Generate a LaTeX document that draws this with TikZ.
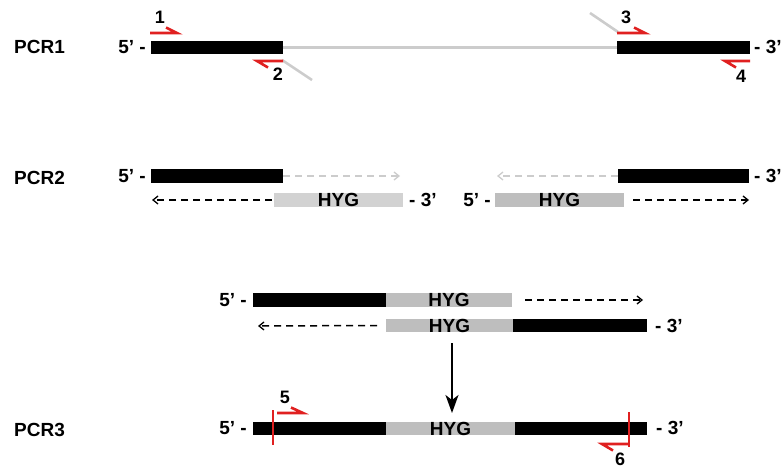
\documentclass[tikz,border=0pt]{standalone}
\usepackage{fontspec}
\setmainfont{Liberation Sans}
\usetikzlibrary{arrows.meta}
\definecolor{primred}{HTML}{E02020}
\definecolor{hygA}{HTML}{D2D2D2}
\definecolor{hygB}{HTML}{BEBEBE}
\definecolor{tailgrey}{HTML}{CCCCCC}
\tikzset{
  lbl/.style={font=\fontsize{19}{19}\selectfont\bfseries, inner sep=0pt},
  num/.style={font=\fontsize{18}{18}\selectfont\bfseries, inner sep=0pt},
  bar/.style={inner sep=0pt, outer sep=0pt, anchor=west, minimum height=13.5pt},
  blackbar/.style={bar, fill=black},
  hygbar/.style={bar, fill=hygB, font=\fontsize{19}{19}\selectfont\bfseries},
  hyglight/.style={bar, fill=hygA, font=\fontsize{19}{19}\selectfont\bfseries},
  primer/.style={draw=primred, line width=2.6pt, line join=miter},
  tail/.style={draw=tailgrey, line width=2.6pt},
  dsh/.style={line width=1.5pt, dash pattern=on 7pt off 5pt, -{Straight Barb[length=5pt,width=8pt,line width=1.3pt]}},
  tick/.style={draw=primred, line width=1.2pt},
}
\begin{document}
\begin{tikzpicture}[x=1pt,y=-1pt]
\useasboundingbox (0,0) rectangle (784,470);

% ---------- PCR1 ----------
\node[lbl, anchor=west] (p1) at (14,47) {PCR1};
\node[lbl, anchor=east] (p1a) at (146,47) {5’ -};
\node[blackbar, minimum width=132pt] (b11) at (151,47.5) {};
\node[blackbar, minimum width=133pt] (b12) at (617,47.5) {};
\node[lbl, anchor=west] (p1b) at (754,47) {- 3’};
\draw[tail] (b11.east) -- (b12.west);
% primer 1
\coordinate (q1s) at (150,33);
\coordinate (q1e) at (177,33);
\draw[primer] (q1s) -- (q1e) -- (166,27.5);
\node[num] (n1) at (160,17) {1};
% primer 2
\coordinate (q2s) at (283,61);
\coordinate (q2e) at (257,61);
\coordinate (t2) at (312,80);
\draw[tail] (282,60) -- (t2);
\draw[primer] (q2s) -- (q2e) -- (268,67.5);
\node[num] (n2) at (278,74) {2};
% primer 3
\coordinate (t3) at (590,13);
\draw[tail] (t3) -- (618,32);
\coordinate (q3s) at (617,33);
\coordinate (q3e) at (645,33);
\draw[primer] (q3s) -- (q3e) -- (634,27.5);
\node[num] (n3) at (626,17) {3};
% primer 4
\coordinate (q4s) at (750,61);
\coordinate (q4e) at (725,61);
\draw[primer] (q4s) -- (q4e) -- (736,67.5);
\node[num] (n4) at (741,76) {4};

% ---------- PCR2 ----------
\node[lbl, anchor=west] (p2) at (14,178) {PCR2};
\node[lbl, anchor=east] (p2a) at (146,176) {5’ -};
\node[blackbar, minimum width=132pt] (b21) at (151,176) {};
\coordinate (g21) at (400,176);
\draw[dsh, draw=tailgrey] (b21.east) -- (g21);
\node[hyglight, minimum width=129pt] (h21) at (274,200) {HYG};
\coordinate (k21) at (152,200);
\draw[dsh] ([xshift=-2pt]h21.west) -- (k21);
\node[lbl, anchor=west] (p2b) at (409,200) {- 3’};

\node[blackbar, minimum width=131pt] (b22) at (618,176) {};
\node[lbl, anchor=west] (p2c) at (754,176) {- 3’};
\coordinate (g22) at (497,176);
\draw[dsh, draw=tailgrey] (b22.west) -- (g22);
\node[lbl, anchor=east] (p2d) at (491,200) {5’ -};
\node[hygbar, minimum width=129pt] (h22) at (495,200) {HYG};
\coordinate (k22) at (749,200);
\draw[dsh] ([xshift=9pt]h22.east) -- (k22);

% ---------- PCR3 (annealing) ----------
\node[lbl, anchor=east] (p3a) at (247,300) {5’ -};
\node[blackbar, minimum width=133pt] (b31) at (253,300) {};
\node[hygbar, minimum width=126pt] (h31) at (b31.east) {HYG};
\coordinate (k31) at (643,300);
\draw[dsh] ([xshift=13pt]h31.east) -- (k31);

\node[hygbar, minimum width=127pt] (h32) at (386,325.5) {HYG};
\node[blackbar, minimum width=134pt] (b32) at (h32.east) {};
\node[lbl, anchor=west] (p3b) at (655,326) {- 3’};
\coordinate (k32) at (258,326);
\draw[dsh] ([xshift=-9pt]h32.west) -- (k32);

% arrow down
\coordinate (a0) at (452,343);
\coordinate (a1) at (452,413);
\draw[line width=2pt, -{Stealth[length=18pt,width=13pt,inset=5pt]}] (a0) -- (a1);

% ---------- PCR3 (fusion) ----------
\node[lbl, anchor=west] (p3) at (14,430) {PCR3};
\node[lbl, anchor=east] (p3c) at (247,428) {5’ -};
\node[blackbar, minimum width=133pt] (b41) at (253,428.5) {};
\node[hygbar, minimum width=129pt] (h41) at (b41.east) {HYG};
\node[blackbar, minimum width=132pt] (b42) at (h41.east) {};
\node[lbl, anchor=west] (p3d) at (656,428) {- 3’};
\draw[tick] (273,410) -- (273,445);
\draw[tick] (629,412) -- (629,447);
% primer 5
\coordinate (q5s) at (277,413);
\coordinate (q5e) at (303,413);
\draw[primer] (q5s) -- (q5e) -- (291,407.5);
\node[num] (n5) at (285,397) {5};
% primer 6
\coordinate (q6s) at (629,444);
\coordinate (q6e) at (602,444);
\draw[primer] (q6s) -- (q6e) -- (613,450.5);
\node[num] (n6) at (620,459.5) {6};
\end{tikzpicture}
\end{document}
